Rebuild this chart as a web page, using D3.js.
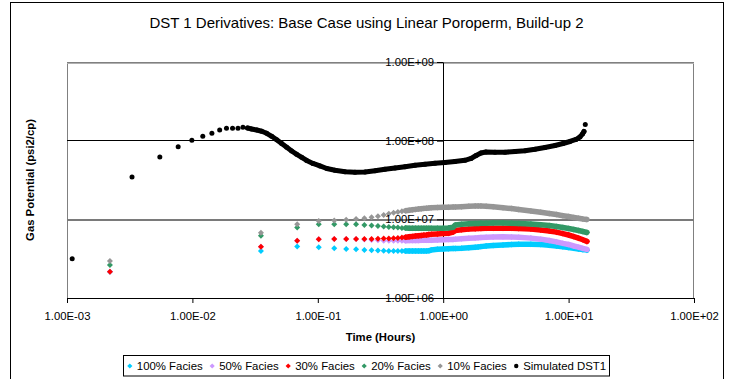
<!DOCTYPE html>
<html>
<head>
<meta charset="utf-8">
<script src="https://cdn.jsdelivr.net/npm/d3@7"></script>
<style>
  body { margin: 0; background: #fff; }
  svg text { font-family: "Liberation Sans", Arial, sans-serif; fill: #000; }
</style>
</head>
<body>
<svg id="chart" width="734" height="379"></svg>
<script>
// ---- data ---------------------------------------------------------------
const chartTitle = "DST 1 Derivatives: Base Case using Linear Poroperm, Build-up 2";
const xTitle = "Time (Hours)";
const yTitle = "Gas Potential (psi2/cp)";

const seriesNames = ["100% Facies", "50% Facies", "30% Facies", "20% Facies", "10% Facies", "Simulated DST1"];

const xTicks = [1e-3, 1e-2, 1e-1, 1, 10, 100];
const xTickLabels = ["1.00E-03", "1.00E-02", "1.00E-01", "1.00E+00", "1.00E+01", "1.00E+02"];
const yTicks = [1e6, 1e7, 1e8, 1e9];
const yTickLabels = ["1.00E+06", "1.00E+07", "1.00E+08", "1.00E+09"];

// time (hours) shared by the facies cases
const facTime = [0.0022, 0.0352, 0.0685, 0.1018, 0.1352, 0.1685, 0.2018, 0.2352, 0.2685, 0.3018,
  0.3352, 0.3685, 0.4018, 0.4352, 0.4685, 0.5018, 0.5352, 0.5685, 0.6018, 0.6352,
  0.6685, 0.7018, 0.7352, 0.7685, 0.8018, 0.9, 1.0, 1.1, 1.2, 1.25,
  1.4, 1.6, 1.8, 1.9, 2.0, 2.2, 2.5, 3.0, 3.5, 4.0,
  5.0, 6.0, 7.0, 8.0, 9.0, 10, 11, 12, 13, 14];

const fac100 = [2.16e6, 3.96e6, 4.52e6, 4.41e6, 4.28e6, 4.20e6, 4.16e6, 4.08e6, 4.04e6, 4.01e6,
  3.98e6, 3.96e6, 3.96e6, 3.96e6, 3.96e6, 3.96e6, 3.96e6, 3.96e6, 3.96e6, 3.96e6,
  3.96e6, 3.96e6, 3.96e6, 3.98e6, 4.08e6, 4.16e6, 4.20e6, 4.22e6, 4.25e6, 4.26e6,
  4.28e6, 4.35e6, 4.42e6, 4.46e6, 4.50e6, 4.57e6, 4.64e6, 4.72e6, 4.78e6, 4.81e6,
  4.82e6, 4.78e6, 4.68e6, 4.58e6, 4.47e6, 4.37e6, 4.28e6, 4.20e6, 4.12e6, 4.06e6];

const fac50 = [2.16e6, 4.49e6, 5.35e6, 5.58e6, 5.63e6, 5.63e6, 5.63e6, 5.54e6, 5.47e6, 5.42e6,
  5.35e6, 5.35e6, 5.35e6, 5.35e6, 5.35e6, 5.35e6, 5.38e6, 5.38e6, 5.40e6, 5.40e6,
  5.42e6, 5.42e6, 5.44e6, 5.44e6, 5.44e6, 5.47e6, 5.50e6, 5.53e6, 5.56e6, 5.60e6,
  5.66e6, 5.74e6, 5.81e6, 5.85e6, 5.88e6, 5.93e6, 5.97e6, 5.99e6, 5.97e6, 5.91e6,
  5.77e6, 5.60e6, 5.38e6, 5.17e6, 4.95e6, 4.79e6, 4.58e6, 4.43e6, 4.27e6, 4.14e6];

const fac30 = [2.16e6, 4.49e6, 5.35e6, 5.58e6, 5.63e6, 5.63e6, 5.63e6, 5.63e6, 5.63e6, 5.66e6,
  5.69e6, 5.71e6, 5.74e6, 5.79e6, 5.86e6, 5.93e6, 6.00e6, 6.07e6, 6.14e6, 6.20e6,
  6.25e6, 6.30e6, 6.34e6, 6.40e6, 6.44e6, 6.51e6, 6.59e6, 6.65e6, 6.90e6, 7.21e6,
  7.39e6, 7.52e6, 7.61e6, 7.65e6, 7.67e6, 7.69e6, 7.71e6, 7.71e6, 7.69e6, 7.65e6,
  7.52e6, 7.32e6, 7.11e6, 6.87e6, 6.59e6, 6.32e6, 6.04e6, 5.76e6, 5.50e6, 5.24e6];

const fac20 = [2.63e6, 6.20e6, 7.88e6, 8.65e6, 8.65e6, 8.65e6, 8.65e6, 8.48e6, 8.35e6, 8.23e6,
  8.11e6, 7.99e6, 7.92e6, 7.85e6, 7.78e6, 7.74e6, 7.69e6, 7.69e6, 7.69e6, 7.69e6,
  7.69e6, 7.69e6, 7.69e6, 7.69e6, 7.69e6, 7.69e6, 7.71e6, 7.76e6, 7.92e6, 8.48e6,
  8.65e6, 8.78e6, 8.86e6, 8.88e6, 8.91e6, 8.93e6, 8.96e6, 8.96e6, 8.91e6, 8.86e6,
  8.73e6, 8.52e6, 8.33e6, 8.11e6, 7.88e6, 7.65e6, 7.43e6, 7.21e6, 7.01e6, 6.81e6];

const fac10 = [2.95e6, 6.76e6, 8.65e6, 9.53e6, 9.67e6, 9.90e6, 1.010e7, 1.031e7, 1.062e7, 1.093e7,
  1.136e7, 1.177e7, 1.211e7, 1.240e7, 1.266e7, 1.288e7, 1.307e7, 1.322e7, 1.338e7, 1.354e7,
  1.366e7, 1.378e7, 1.386e7, 1.394e7, 1.403e7, 1.415e7, 1.423e7, 1.427e7, 1.435e7, 1.435e7,
  1.448e7, 1.465e7, 1.478e7, 1.478e7, 1.478e7, 1.469e7, 1.444e7, 1.403e7, 1.370e7, 1.334e7,
  1.277e7, 1.229e7, 1.187e7, 1.149e7, 1.113e7, 1.084e7, 1.056e7, 1.031e7, 1.010e7, 9.95e6];

// simulated DST1 derivative
const dstTime = [0.0011, 0.0033, 0.0055, 0.0077, 0.0099, 0.0121, 0.0143, 0.0165, 0.0187, 0.0209,
  0.0231, 0.0253, 0.0275, 0.0297, 0.0326, 0.0357, 0.0391, 0.0429, 0.047, 0.0515,
  0.0565, 0.0619, 0.0679, 0.0744, 0.0815, 0.0915, 0.104, 0.118, 0.137, 0.165,
  0.198, 0.238, 0.286, 0.343, 0.413, 0.496, 0.596, 0.716, 0.86, 1.03,
  1.24, 1.49, 1.67, 1.83, 2.0, 2.19, 2.59, 3.11, 3.74, 4.49,
  5.39, 6.48, 7.79, 9.02, 10.25, 11.45, 12.32, 12.9, 13.26, 13.58];

const dstValues = [3.16e6, 3.45e7, 6.20e7, 8.38e7, 1.011e8, 1.137e8, 1.241e8, 1.367e8, 1.437e8, 1.44e8,
  1.44e8, 1.479e8, 1.449e8, 1.407e8, 1.367e8, 1.316e8, 1.241e8, 1.137e8, 1.029e8, 9.20e7,
  8.24e7, 7.39e7, 6.71e7, 6.15e7, 5.60e7, 5.13e7, 4.77e7, 4.43e7, 4.20e7, 4.02e7,
  3.96e7, 4.00e7, 4.14e7, 4.33e7, 4.49e7, 4.67e7, 4.86e7, 5.01e7, 5.16e7, 5.28e7,
  5.44e7, 5.63e7, 5.94e7, 6.48e7, 6.97e7, 7.18e7, 7.12e7, 7.12e7, 7.29e7, 7.43e7,
  7.77e7, 8.19e7, 8.68e7, 9.20e7, 9.76e7, 1.035e8, 1.114e8, 1.216e8, 1.308e8, 1.606e8];

// ---- layout & styles ----------------------------------------------------
const W = 734, H = 379;
const plot = { left: 67, right: 694, top: 62, bottom: 298 };
const FONT = 11.3;

// band: time range where the samples are so close that the markers run together
const series = [
  { name: seriesNames[0], t: facTime, v: fac100, color: "#00CCFF", shape: "diamond", band: [0.5, 14] },
  { name: seriesNames[1], t: facTime, v: fac50,  color: "#CC99FF", shape: "diamond", band: [0.5, 14] },
  { name: seriesNames[2], t: facTime, v: fac30,  color: "#FF0000", shape: "diamond", band: [0.5, 14] },
  { name: seriesNames[3], t: facTime, v: fac20,  color: "#339966", shape: "diamond", band: [0.5, 14] },
  { name: seriesNames[4], t: facTime, v: fac10,  color: "#969696", shape: "diamond", band: [0.5, 14] },
  { name: seriesNames[5], t: dstTime, v: dstValues, color: "#000000", shape: "circle", band: [0.027, 13.3] }
];

const svg = d3.select("#chart");
svg.append("rect").attr("width", W).attr("height", H).attr("fill", "#fff");

// outer chart frame
svg.append("rect")
  .attr("x", 10.5).attr("y", 2.5).attr("width", 713).attr("height", 400)
  .attr("fill", "none").attr("stroke", "#000").attr("stroke-width", 1);

const x = d3.scaleLog().domain([1e-3, 1e2]).range([plot.left, plot.right]);
const y = d3.scaleLog().domain([1e6, 1e9]).range([plot.bottom, plot.top]);

// plot area border
svg.append("rect")
  .attr("x", plot.left + 0.5).attr("y", plot.top + 0.5)
  .attr("width", plot.right - plot.left - 1).attr("height", plot.bottom - plot.top)
  .attr("fill", "none").attr("stroke", "#808080");
svg.append("line")
  .attr("x1", plot.left).attr("x2", plot.right)
  .attr("y1", plot.top + 1.5).attr("y2", plot.top + 1.5)
  .attr("stroke", "#b0b0b0");

// horizontal gridlines
const gridStyle = { 1e7: { color: "#7a7a7a", width: 2, off: 0 }, 1e8: { color: "#000", width: 1, off: 0.5 } };
svg.append("g").selectAll("line")
  .data(yTicks.filter(v => v > 1e6 && v < 1e9))
  .join("line")
  .attr("x1", plot.left).attr("x2", plot.right)
  .attr("y1", d => Math.floor(y(d)) + gridStyle[d].off + (gridStyle[d].off ? 0 : 1))
  .attr("y2", d => Math.floor(y(d)) + gridStyle[d].off + (gridStyle[d].off ? 0 : 1))
  .attr("stroke", d => gridStyle[d].color).attr("stroke-width", d => gridStyle[d].width);

// axis lines and tick marks (beneath the data)
const yAxisX = Math.floor(x(1));
const axesBelow = svg.append("g");
axesBelow.append("g")
  .attr("transform", `translate(0,${plot.bottom})`)
  .call(d3.axisBottom(x).tickValues(xTicks).tickFormat(() => "").tickSize(5).tickSizeOuter(0))
  .call(g => g.selectAll("path,line").attr("stroke", "#000"));
axesBelow.append("g")
  .attr("transform", `translate(${yAxisX},0)`)
  .call(d3.axisLeft(y).tickValues(yTicks).tickFormat(() => "").tickSize(6).tickSizeOuter(0))
  .call(g => g.selectAll("path,line").attr("stroke", "#000"));

// ---- series ---------------------------------------------------------------
const diamond = r => `M0,${-r}L${r},0L0,${r}L${-r},0Z`;
const line = d3.line().x(d => x(d.t)).y(d => y(d.v));

series.forEach(s => {
  const pts = s.t.map((t, i) => ({ t, v: s.v[i] }));
  const g = svg.append("g");
  const dense = pts.filter(p => p.t >= s.band[0] && p.t <= s.band[1]);
  g.append("path")
    .attr("d", line(dense))
    .attr("fill", "none")
    .attr("stroke", s.color)
    .attr("stroke-width", s.shape === "circle" ? 5 : 5.5)
    .attr("stroke-linecap", "round")
    .attr("stroke-linejoin", "round");
  if (s.shape === "circle") {
    g.selectAll("circle").data(pts).join("circle")
      .attr("cx", d => x(d.t)).attr("cy", d => y(d.v)).attr("r", 2.5)
      .attr("fill", s.color);
  } else {
    g.selectAll("path.m").data(pts).join("path").attr("class", "m")
      .attr("transform", d => `translate(${x(d.t)},${y(d.v)})`)
      .attr("d", diamond(3))
      .attr("fill", s.color);
  }
});

// ---- axis labels (above the data) ----------------------------------------
const axesAbove = svg.append("g");
axesAbove.append("g")
  .attr("transform", `translate(0,${plot.bottom})`)
  .call(d3.axisBottom(x).tickValues(xTicks).tickFormat((d, i) => xTickLabels[i]).tickSize(0).tickPadding(14))
  .call(g => g.select(".domain").remove())
  .call(g => g.selectAll("text").attr("font-size", FONT).attr("fill", "#000"))
  .attr("font-family", null).attr("font-size", null);
axesAbove.append("g")
  .attr("transform", `translate(${yAxisX},0)`)
  .call(d3.axisLeft(y).tickValues(yTicks).tickFormat((d, i) => yTickLabels[i]).tickSize(0).tickPadding(9))
  .call(g => g.select(".domain").remove())
  .call(g => g.selectAll("text").attr("font-size", FONT).attr("fill", "#000"))
  .attr("font-family", null).attr("font-size", null);

// ---- titles ---------------------------------------------------------------
svg.append("text")
  .attr("x", 366.5).attr("y", 28.3)
  .attr("text-anchor", "middle").attr("font-size", 15)
  .text(chartTitle);

svg.append("text")
  .attr("x", (plot.left + plot.right) / 2).attr("y", 341)
  .attr("text-anchor", "middle").attr("font-size", FONT).attr("font-weight", "bold")
  .text(xTitle);

svg.append("text")
  .attr("transform", `translate(34,${(plot.top + plot.bottom) / 2}) rotate(-90)`)
  .attr("text-anchor", "middle").attr("font-size", FONT).attr("font-weight", "bold")
  .text(yTitle);

// ---- legend ---------------------------------------------------------------
const legend = svg.append("g");
legend.append("rect")
  .attr("x", 123.5).attr("y", 355.5).attr("width", 486).attr("height", 20.5)
  .attr("fill", "#fff").attr("stroke", "#000");

const items = legend.selectAll("g.item").data(series).join("g").attr("class", "item");
items.append("text")
  .attr("y", 370).attr("font-size", 11.4)
  .text(d => d.name);
const widths = [];
items.select("text").each(function () { widths.push(this.getComputedTextLength()); });
const markGap = 7, itemGap = 9.5;
const total = widths.reduce((a, w) => a + markGap + w, 0) + itemGap * (widths.length - 1);
let cx = 368 - total / 2;
items.each(function (d, i) {
  const g = d3.select(this);
  const mx = cx;
  if (d.shape === "circle") {
    g.append("circle").attr("cx", mx).attr("cy", 366).attr("r", 2.2).attr("fill", d.color);
  } else {
    g.append("path").attr("transform", `translate(${mx},366)`).attr("d", diamond(2.6)).attr("fill", d.color);
  }
  g.select("text").attr("x", mx + markGap);
  cx = mx + markGap + widths[i] + itemGap;
});
</script>
</body>
</html>
